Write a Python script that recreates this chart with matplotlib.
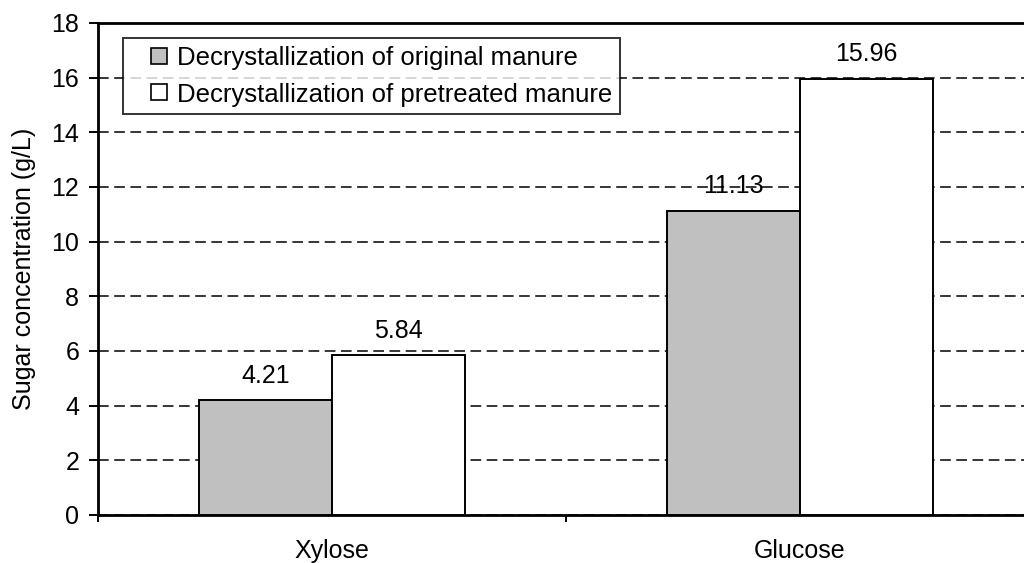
import numpy as np
import matplotlib
matplotlib.use('Agg')
import matplotlib.pyplot as plt
import matplotlib.patches as mpatches
from matplotlib.legend_handler import HandlerPatch

plt.rcParams['font.family'] = ['Liberation Sans', 'DejaVu Sans']

sugars = ['Xylose', 'Glucose']
original = [4.21, 11.13]
pretreated = [5.84, 15.96]
series_names = ['Decrystallization of original manure',
                'Decrystallization of pretreated manure']
series_colors = ['#c0c0c0', 'white']

FS = 18


def square_handle(legend, orig_handle, xdescent, ydescent, width, height, fontsize):
    # small square sitting at the right end of the handle box
    s = height
    return mpatches.Rectangle((-xdescent + width - s, -ydescent), s, s)


fig = plt.figure(figsize=(10.24, 5.63), dpi=100)
# plot area runs off the right edge, like the source image
ax = fig.add_axes([98 / 1024, 1 - 515 / 563, 936 / 1024, 492 / 563])

x = np.arange(len(sugars))
w = 0.285
b1 = ax.bar(x - w / 2, original, w, color=series_colors[0], edgecolor='black',
            linewidth=1.4, zorder=3)
b2 = ax.bar(x + w / 2, pretreated, w, color=series_colors[1], edgecolor='black',
            linewidth=1.4, zorder=3)

for bars, vals in ((b1, original), (b2, pretreated)):
    for r, v in zip(bars, vals):
        ax.text(r.get_x() + r.get_width() / 2, v + 0.45, '%.2f' % v,
                ha='center', va='bottom', fontsize=FS, zorder=5)

ax.set_xlim(-0.5, 1.5)
ax.set_ylim(0, 18)
ax.set_yticks(np.arange(0, 19, 2))
ax.yaxis.grid(True, color='black', linestyle=(0, (7, 3.6)), linewidth=1.1, zorder=1)
ax.set_axisbelow(True)

ax.set_xticks(x)
ax.set_xticklabels(sugars)
ax.set_xticks([-0.5, 0.5, 1.5], minor=True)
ax.tick_params(axis='x', which='major', length=0, pad=17, labelsize=FS)
ax.tick_params(axis='x', which='minor', length=5, width=1.4, direction='out')
ax.tick_params(axis='y', length=6.5, width=1.4, pad=7, labelsize=FS)

for s in ('left', 'bottom', 'top', 'right'):
    ax.spines[s].set_linewidth(2)

ax.set_ylabel('Sugar concentration (g/L)', fontsize=FS, labelpad=11)

proxies = [mpatches.Rectangle((0, 0), 1, 1, facecolor=c, edgecolor='black', linewidth=1.2)
           for c in series_colors]
leg = ax.legend(proxies, series_names, loc='upper left',
                bbox_to_anchor=(25 / 936, 1 - 15 / 492), fontsize=18.5,
                frameon=True, fancybox=False, edgecolor='black',
                handler_map={mpatches.Rectangle: HandlerPatch(patch_func=square_handle)},
                handlelength=1.4, handleheight=0.58, handletextpad=0.4,
                borderpad=0.3, labelspacing=0.5, borderaxespad=0)
leg.get_frame().set_linewidth(1.4)
leg.set_zorder(6)

fig.savefig('out.png', dpi=100)
